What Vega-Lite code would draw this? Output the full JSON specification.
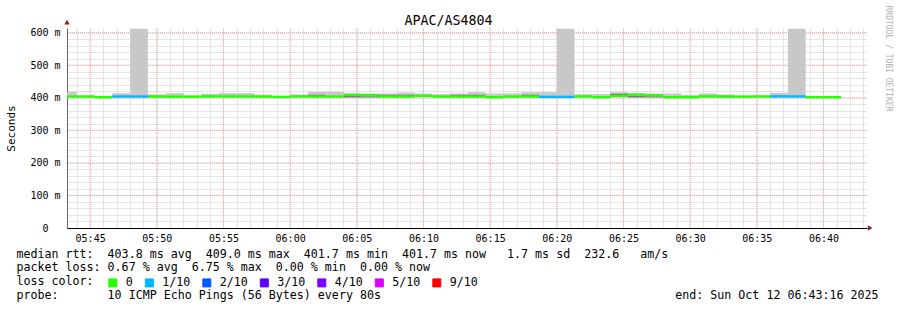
{
  "$schema": "https://vega.github.io/schema/vega-lite/v6.json",
  "width": 800,
  "height": 200,
  "autosize": "none",
  "padding": {"left": 67, "top": 28, "right": 30, "bottom": 82},
  "background": "white",
  "config": {"view": {"stroke": null}},
  "datasets": {
    "smoke": [
      {"t": "2025-10-12T05:42:40Z", "t2": "2025-10-12T05:44:00Z", "med": 403.7, "loss": "0", "lo": 401, "hi": 418},
      {"t": "2025-10-12T05:44:00Z", "t2": "2025-10-12T05:45:20Z", "med": 403.7, "loss": "0", "lo": 401, "hi": 406},
      {"t": "2025-10-12T05:45:20Z", "t2": "2025-10-12T05:46:40Z", "med": 401.5, "loss": "0", "lo": 400, "hi": 403},
      {"t": "2025-10-12T05:46:40Z", "t2": "2025-10-12T05:48:00Z", "med": 403.7, "loss": "1/10", "lo": 401, "hi": 414},
      {"t": "2025-10-12T05:48:00Z", "t2": "2025-10-12T05:49:20Z", "med": 403.7, "loss": "1/10", "lo": 401, "hi": 612},
      {"t": "2025-10-12T05:49:20Z", "t2": "2025-10-12T05:50:40Z", "med": 403.7, "loss": "0", "lo": 401, "hi": 410},
      {"t": "2025-10-12T05:50:40Z", "t2": "2025-10-12T05:52:00Z", "med": 403, "loss": "0", "lo": 401, "hi": 414},
      {"t": "2025-10-12T05:52:00Z", "t2": "2025-10-12T05:53:20Z", "med": 403, "loss": "0", "lo": 401, "hi": 407},
      {"t": "2025-10-12T05:53:20Z", "t2": "2025-10-12T05:54:40Z", "med": 404, "loss": "0", "lo": 401, "hi": 412},
      {"t": "2025-10-12T05:54:40Z", "t2": "2025-10-12T05:56:00Z", "med": 404, "loss": "0", "lo": 401, "hi": 414},
      {"t": "2025-10-12T05:56:00Z", "t2": "2025-10-12T05:57:20Z", "med": 404, "loss": "0", "lo": 401, "hi": 414},
      {"t": "2025-10-12T05:57:20Z", "t2": "2025-10-12T05:58:40Z", "med": 403.5, "loss": "0", "lo": 401, "hi": 410},
      {"t": "2025-10-12T05:58:40Z", "t2": "2025-10-12T06:00:00Z", "med": 402.5, "loss": "0", "lo": 401, "hi": 404},
      {"t": "2025-10-12T06:00:00Z", "t2": "2025-10-12T06:01:20Z", "med": 404, "loss": "0", "lo": 401, "hi": 410},
      {"t": "2025-10-12T06:01:20Z", "t2": "2025-10-12T06:02:40Z", "med": 403.5, "loss": "0", "lo": 401, "hi": 418},
      {"t": "2025-10-12T06:02:40Z", "t2": "2025-10-12T06:04:00Z", "med": 403.5, "loss": "0", "lo": 401, "hi": 418},
      {"t": "2025-10-12T06:04:00Z", "t2": "2025-10-12T06:05:20Z", "med": 408.5, "loss": "0", "lo": 401, "hi": 413},
      {"t": "2025-10-12T06:05:20Z", "t2": "2025-10-12T06:06:40Z", "med": 407.5, "loss": "0", "lo": 401, "hi": 413},
      {"t": "2025-10-12T06:06:40Z", "t2": "2025-10-12T06:08:00Z", "med": 403.5, "loss": "0", "lo": 401, "hi": 413},
      {"t": "2025-10-12T06:08:00Z", "t2": "2025-10-12T06:09:20Z", "med": 403.5, "loss": "0", "lo": 401, "hi": 416},
      {"t": "2025-10-12T06:09:20Z", "t2": "2025-10-12T06:10:40Z", "med": 406, "loss": "0", "lo": 401, "hi": 413},
      {"t": "2025-10-12T06:10:40Z", "t2": "2025-10-12T06:12:00Z", "med": 403.5, "loss": "0", "lo": 401, "hi": 411},
      {"t": "2025-10-12T06:12:00Z", "t2": "2025-10-12T06:13:20Z", "med": 403.5, "loss": "0", "lo": 401, "hi": 413},
      {"t": "2025-10-12T06:13:20Z", "t2": "2025-10-12T06:14:40Z", "med": 403.5, "loss": "0", "lo": 401, "hi": 417},
      {"t": "2025-10-12T06:14:40Z", "t2": "2025-10-12T06:16:00Z", "med": 401.5, "loss": "0", "lo": 400, "hi": 413},
      {"t": "2025-10-12T06:16:00Z", "t2": "2025-10-12T06:17:20Z", "med": 403.5, "loss": "0", "lo": 401, "hi": 413},
      {"t": "2025-10-12T06:17:20Z", "t2": "2025-10-12T06:18:40Z", "med": 403.5, "loss": "0", "lo": 401, "hi": 417},
      {"t": "2025-10-12T06:18:40Z", "t2": "2025-10-12T06:20:00Z", "med": 402.5, "loss": "1/10", "lo": 400, "hi": 417},
      {"t": "2025-10-12T06:20:00Z", "t2": "2025-10-12T06:21:20Z", "med": 402.5, "loss": "1/10", "lo": 400, "hi": 612},
      {"t": "2025-10-12T06:21:20Z", "t2": "2025-10-12T06:22:40Z", "med": 404, "loss": "0", "lo": 401, "hi": 411},
      {"t": "2025-10-12T06:22:40Z", "t2": "2025-10-12T06:24:00Z", "med": 401.5, "loss": "0", "lo": 400, "hi": 411},
      {"t": "2025-10-12T06:24:00Z", "t2": "2025-10-12T06:25:20Z", "med": 406, "loss": "0", "lo": 401, "hi": 417},
      {"t": "2025-10-12T06:25:20Z", "t2": "2025-10-12T06:26:40Z", "med": 409.5, "loss": "0", "lo": 401, "hi": 413},
      {"t": "2025-10-12T06:26:40Z", "t2": "2025-10-12T06:28:00Z", "med": 407.5, "loss": "0", "lo": 401, "hi": 413},
      {"t": "2025-10-12T06:28:00Z", "t2": "2025-10-12T06:29:20Z", "med": 401.5, "loss": "0", "lo": 400, "hi": 413},
      {"t": "2025-10-12T06:29:20Z", "t2": "2025-10-12T06:30:40Z", "med": 401.5, "loss": "0", "lo": 400, "hi": 409},
      {"t": "2025-10-12T06:30:40Z", "t2": "2025-10-12T06:32:00Z", "med": 404, "loss": "0", "lo": 401, "hi": 413},
      {"t": "2025-10-12T06:32:00Z", "t2": "2025-10-12T06:33:20Z", "med": 404, "loss": "0", "lo": 401, "hi": 410},
      {"t": "2025-10-12T06:33:20Z", "t2": "2025-10-12T06:34:40Z", "med": 403.5, "loss": "0", "lo": 401, "hi": 404},
      {"t": "2025-10-12T06:34:40Z", "t2": "2025-10-12T06:36:00Z", "med": 404, "loss": "0", "lo": 401, "hi": 405},
      {"t": "2025-10-12T06:36:00Z", "t2": "2025-10-12T06:37:20Z", "med": 404, "loss": "1/10", "lo": 401, "hi": 415},
      {"t": "2025-10-12T06:37:20Z", "t2": "2025-10-12T06:38:40Z", "med": 404, "loss": "1/10", "lo": 401, "hi": 612},
      {"t": "2025-10-12T06:38:40Z", "t2": "2025-10-12T06:40:00Z", "med": 401.5, "loss": "0", "lo": 400, "hi": 402},
      {"t": "2025-10-12T06:40:00Z", "t2": "2025-10-12T06:41:20Z", "med": 401.5, "loss": "0", "lo": 400, "hi": 402}
    ],
    "dark": [
      {"t": "2025-10-12T06:01:20Z", "t2": "2025-10-12T06:02:40Z", "lo": 406, "hi": 409},
      {"t": "2025-10-12T06:04:00Z", "t2": "2025-10-12T06:05:20Z", "lo": 401, "hi": 405},
      {"t": "2025-10-12T06:05:20Z", "t2": "2025-10-12T06:06:40Z", "lo": 401, "hi": 404},
      {"t": "2025-10-12T06:06:40Z", "t2": "2025-10-12T06:08:00Z", "lo": 406, "hi": 409},
      {"t": "2025-10-12T06:08:00Z", "t2": "2025-10-12T06:09:20Z", "lo": 406, "hi": 409},
      {"t": "2025-10-12T06:12:00Z", "t2": "2025-10-12T06:13:20Z", "lo": 406, "hi": 409},
      {"t": "2025-10-12T06:13:20Z", "t2": "2025-10-12T06:14:40Z", "lo": 406, "hi": 409},
      {"t": "2025-10-12T06:17:20Z", "t2": "2025-10-12T06:18:40Z", "lo": 406, "hi": 409},
      {"t": "2025-10-12T06:24:00Z", "t2": "2025-10-12T06:25:20Z", "lo": 408, "hi": 412},
      {"t": "2025-10-12T06:25:20Z", "t2": "2025-10-12T06:26:40Z", "lo": 401, "hi": 405},
      {"t": "2025-10-12T06:26:40Z", "t2": "2025-10-12T06:28:00Z", "lo": 401, "hi": 404},
      {"t": "2025-10-12T06:32:00Z", "t2": "2025-10-12T06:33:20Z", "lo": 401, "hi": 403}
    ],
    "majorY": [{"v": 100}, {"v": 200}, {"v": 300}, {"v": 400}, {"v": 500}, {"v": 600}],
    "majorX": [
      {"t": "2025-10-12T05:45:00Z"}, {"t": "2025-10-12T05:50:00Z"}, {"t": "2025-10-12T05:55:00Z"},
      {"t": "2025-10-12T06:00:00Z"}, {"t": "2025-10-12T06:05:00Z"}, {"t": "2025-10-12T06:10:00Z"},
      {"t": "2025-10-12T06:15:00Z"}, {"t": "2025-10-12T06:20:00Z"}, {"t": "2025-10-12T06:25:00Z"},
      {"t": "2025-10-12T06:30:00Z"}, {"t": "2025-10-12T06:35:00Z"}, {"t": "2025-10-12T06:40:00Z"}
    ],
    "arrowUp": [{"t": "2025-10-12T05:43:16Z", "v": 632}],
    "arrowRight": [{"t": "2025-10-12T06:43:30Z", "v": 0}]
  },
  "resolve": {"axis": {"x": "independent", "y": "independent"}},
  "layer": [
    {
      "data": {"name": "majorY"},
      "mark": {"type": "rule", "color": "#f0a8a8", "strokeDash": [1, 1], "strokeWidth": 1},
      "encoding": {
        "y": {"field": "v", "type": "quantitative", "scale": {"domain": [0, 614], "nice": false, "zero": true}, "axis": null}
      }
    },
    {
      "data": {"name": "majorX"},
      "mark": {"type": "rule", "color": "#f0a8a8", "strokeDash": [1, 1], "strokeWidth": 1},
      "encoding": {
        "x": {"field": "t", "type": "temporal", "axis": null,
              "scale": {"type": "utc", "domain": [
                {"year": 2025, "month": 10, "date": 12, "hours": 5, "minutes": 43, "seconds": 16, "utc": true},
                {"year": 2025, "month": 10, "date": 12, "hours": 6, "minutes": 43, "seconds": 16, "utc": true}]}}
      }
    },
    {
      "data": {"name": "smoke"},
      "mark": {"type": "rect", "color": "#c8c8c8", "clip": true},
      "encoding": {
        "x": {
          "field": "t", "type": "temporal",
          "scale": {"type": "utc", "domain": [
            {"year": 2025, "month": 10, "date": 12, "hours": 5, "minutes": 43, "seconds": 16, "utc": true},
            {"year": 2025, "month": 10, "date": 12, "hours": 6, "minutes": 43, "seconds": 16, "utc": true}
          ]},
          "axis": {
            "tickCount": 60,
            "labelExpr": "utcminutes(datum.value) % 5 === 0 ? utcFormat(datum.value, '%H:%M') : ''",
            "labelFont": "DejaVu Sans Mono", "labelFontSize": 10, "labelColor": "#000",
            "labelPadding": 5, "labelOverlap": false, "labelBaseline": "top", "labelFlush": false, "labelBound": false,
            "ticks": false, "tickSize": 0,
            "grid": true, "gridColor": "#cdcdcd", "gridDash": [1, 1], "gridWidth": 1,
            "domainColor": "#000", "domainWidth": 1,
            "title": ["median\u00a0rtt:\u00a0\u00a0403.8\u00a0ms\u00a0avg\u00a0\u00a0409.0\u00a0ms\u00a0max\u00a0\u00a0401.7\u00a0ms\u00a0min\u00a0\u00a0401.7\u00a0ms\u00a0now\u00a0\u00a0\u00a01.7\u00a0ms\u00a0sd\u00a0\u00a0232.6\u00a0\u00a0\u00a0am/s",
                      "packet\u00a0loss:\u00a00.67\u00a0%\u00a0avg\u00a0\u00a06.75\u00a0%\u00a0max\u00a0\u00a00.00\u00a0%\u00a0min\u00a0\u00a00.00\u00a0%\u00a0now",
                      "loss\u00a0color:",
                      "probe:\u00a0\u00a0\u00a0\u00a0\u00a0\u00a0\u00a010\u00a0ICMP\u00a0Echo\u00a0Pings\u00a0(56\u00a0Bytes)\u00a0every\u00a080s\u00a0\u00a0\u00a0\u00a0\u00a0\u00a0\u00a0\u00a0\u00a0\u00a0\u00a0\u00a0\u00a0\u00a0\u00a0\u00a0\u00a0\u00a0\u00a0\u00a0\u00a0\u00a0\u00a0\u00a0\u00a0\u00a0\u00a0\u00a0\u00a0\u00a0\u00a0\u00a0\u00a0\u00a0\u00a0\u00a0\u00a0\u00a0\u00a0\u00a0\u00a0\u00a0end:\u00a0Sun\u00a0Oct\u00a012\u00a006:43:16\u00a02025"],
            "titleFont": "DejaVu Sans Mono", "titleFontSize": 11.65, "titleFontWeight": "normal", "titleColor": "#000",
            "titleAlign": "left", "titleAnchor": "start", "titleX": -51, "titleY": 20, "titleBaseline": "top", "titleLineHeight": 13.9
          }
        },
        "x2": {"field": "t2"},
        "y": {
          "field": "lo", "type": "quantitative",
          "scale": {"domain": [0, 614], "nice": false, "zero": true},
          "axis": {
            "values": [0, 20, 40, 60, 80, 100, 120, 140, 160, 180, 200, 220, 240, 260, 280, 300, 320, 340, 360, 380, 400, 420, 440, 460, 480, 500, 520, 540, 560, 580, 600],
            "tickCount": 31,
            "labelExpr": "datum.value % 100 === 0 ? (datum.value === 0 ? '0' : datum.value + '\u00a0m') : ''",
            "labelFont": "DejaVu Sans Mono", "labelFontSize": 10, "labelColor": "#000",
            "labelAlign": "center", "labelPadding": 22, "labelOverlap": false, "labelBound": false, "labelFlush": false,
            "ticks": false, "tickSize": 0,
            "grid": true, "gridColor": "#cdcdcd", "gridDash": [1, 1], "gridWidth": 1,
            "domainColor": "#666", "domainWidth": 1,
            "title": "Seconds",
            "titleFont": "DejaVu Sans Mono", "titleFontSize": 11, "titleFontWeight": "normal", "titleColor": "#000",
            "titleAngle": -90, "titleX": -56, "titleY": 100, "titleAlign": "center", "titleBaseline": "middle"
          }
        },
        "y2": {"field": "hi"}
      }
    },
    {
      "data": {"name": "dark"},
      "mark": {"type": "rect", "color": "#707070", "clip": true},
      "encoding": {
        "x": {"field": "t", "type": "temporal", "axis": null},
        "x2": {"field": "t2"},
        "y": {
          "field": "lo", "type": "quantitative",
          "axis": {
            "orient": "right", "labels": false, "ticks": false, "domain": false, "grid": false,
            "title": "RRDTOOL / TOBI OETIKER",
            "titleFont": "DejaVu Sans Mono", "titleFontSize": 8, "titleFontWeight": "normal", "titleColor": "#b0b0b0",
            "titleAngle": 90, "titleX": 20, "titleY": -23, "titleAlign": "left", "titleBaseline": "middle"
          }
        },
        "y2": {"field": "hi"}
      }
    },
    {
      "data": {"name": "smoke"},
      "mark": {"type": "rule", "strokeWidth": 2.4, "strokeCap": "butt", "clip": true},
      "encoding": {
        "x": {"field": "t", "type": "temporal", "axis": null},
        "x2": {"field": "t2"},
        "y": {
          "field": "med", "type": "quantitative",
          "axis": {
            "orient": "left", "labels": false, "ticks": false, "domain": false, "grid": false,
            "title": "APAC/AS4804",
            "titleFont": "DejaVu Sans Mono", "titleFontSize": 13.3, "titleFontWeight": "normal", "titleColor": "#000",
            "titleAngle": 0, "titleX": 381, "titleY": -4, "titleAlign": "center", "titleBaseline": "alphabetic"
          }
        },
        "color": {
          "field": "loss", "type": "nominal",
          "scale": {"domain": ["0", "1/10", "2/10", "3/10", "4/10", "5/10", "9/10"],
                    "range": ["#26ff00", "#00b8ff", "#0059ff", "#5e00ff", "#7e00ff", "#dd00ff", "#ff0000"]},
          "legend": {
            "title": null, "orient": "none", "legendX": 40, "legendY": 249,
            "direction": "horizontal", "columns": 7,
            "labelFont": "DejaVu Sans Mono", "labelFontSize": 11.65, "labelColor": "#000",
            "labelOffset": 7, "columnPadding": 9.5, "padding": 0,
            "symbolType": "square", "symbolSize": 64,
            "encode": {"symbols": {"update": {
              "fill": {"scale": "color", "field": "value"},
              "stroke": {"value": "#000"}, "strokeWidth": {"value": 1}, "opacity": {"value": 1}
            }}}
          }
        }
      }
    },
    {
      "data": {"name": "arrowUp"},
      "mark": {"type": "point", "shape": "triangle-up", "filled": true, "color": "#8b1a1a", "size": 28, "opacity": 1},
      "encoding": {
        "x": {"field": "t", "type": "temporal", "axis": null},
        "y": {"field": "v", "type": "quantitative", "axis": null}
      }
    },
    {
      "data": {"name": "arrowRight"},
      "mark": {"type": "point", "shape": "triangle-right", "filled": true, "color": "#8b1a1a", "size": 28, "opacity": 1},
      "encoding": {
        "x": {"field": "t", "type": "temporal", "axis": null},
        "y": {"field": "v", "type": "quantitative", "axis": null}
      }
    }
  ]
}
